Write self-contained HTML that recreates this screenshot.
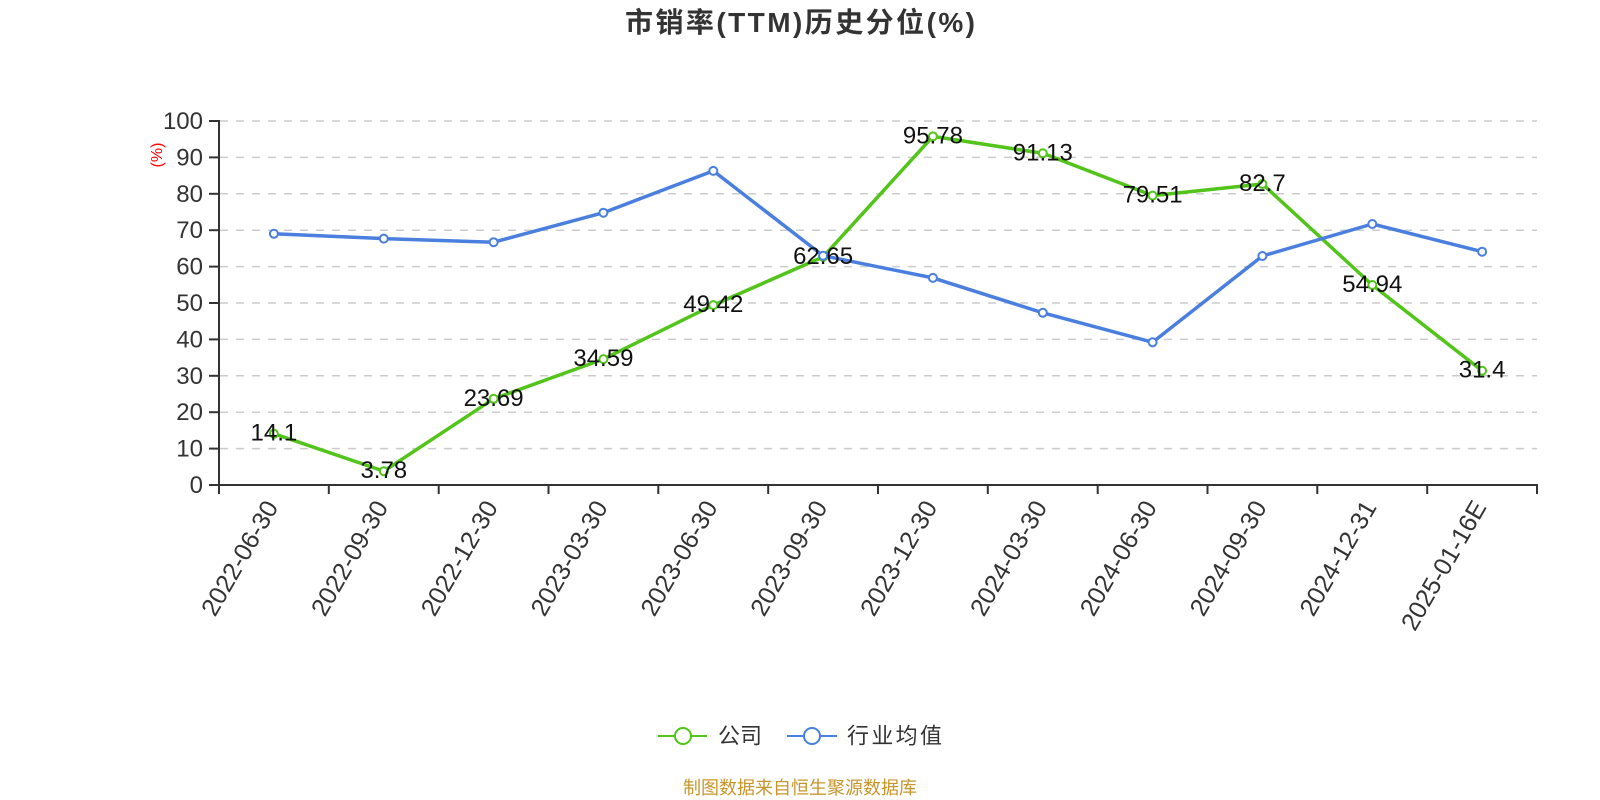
<!DOCTYPE html>
<html>
<head>
<meta charset="utf-8">
<style>
  html,body{margin:0;padding:0;background:#fff;}
  svg{display:block;}
  text{font-family:"Liberation Sans","Noto Sans CJK SC",sans-serif;}
</style>
</head>
<body>
<svg width="1600" height="800" viewBox="0 0 1600 800" xmlns="http://www.w3.org/2000/svg">
  <!-- Title -->
  <text x="800" y="32" text-anchor="middle" font-size="28" font-weight="bold" fill="#333" textLength="350" lengthAdjust="spacing">市销率(TTM)历史分位(%)</text>

  <!-- Grid lines -->
  <g stroke="#cccccc" stroke-width="1.5" stroke-dasharray="8 8">
    <line x1="220" y1="448.6" x2="1537" y2="448.6"/>
    <line x1="220" y1="412.2" x2="1537" y2="412.2"/>
    <line x1="220" y1="375.8" x2="1537" y2="375.8"/>
    <line x1="220" y1="339.4" x2="1537" y2="339.4"/>
    <line x1="220" y1="303" x2="1537" y2="303"/>
    <line x1="220" y1="266.6" x2="1537" y2="266.6"/>
    <line x1="220" y1="230.2" x2="1537" y2="230.2"/>
    <line x1="220" y1="193.8" x2="1537" y2="193.8"/>
    <line x1="220" y1="157.4" x2="1537" y2="157.4"/>
    <line x1="220" y1="121" x2="1537" y2="121"/>
  </g>

  <!-- Axes -->
  <g stroke="#333" stroke-width="2">
    <line x1="219" y1="120" x2="219" y2="486"/>
    <line x1="218" y1="485" x2="1538" y2="485"/>
    <line x1="209" y1="485" x2="219" y2="485"/>
    <line x1="209" y1="448.6" x2="219" y2="448.6"/>
    <line x1="209" y1="412.2" x2="219" y2="412.2"/>
    <line x1="209" y1="375.8" x2="219" y2="375.8"/>
    <line x1="209" y1="339.4" x2="219" y2="339.4"/>
    <line x1="209" y1="303" x2="219" y2="303"/>
    <line x1="209" y1="266.6" x2="219" y2="266.6"/>
    <line x1="209" y1="230.2" x2="219" y2="230.2"/>
    <line x1="209" y1="193.8" x2="219" y2="193.8"/>
    <line x1="209" y1="157.4" x2="219" y2="157.4"/>
    <line x1="209" y1="121" x2="219" y2="121"/>
    <line x1="219" y1="485" x2="219" y2="494"/>
    <line x1="328.8" y1="485" x2="328.8" y2="494"/>
    <line x1="438.7" y1="485" x2="438.7" y2="494"/>
    <line x1="548.5" y1="485" x2="548.5" y2="494"/>
    <line x1="658.3" y1="485" x2="658.3" y2="494"/>
    <line x1="768.2" y1="485" x2="768.2" y2="494"/>
    <line x1="878" y1="485" x2="878" y2="494"/>
    <line x1="987.8" y1="485" x2="987.8" y2="494"/>
    <line x1="1097.7" y1="485" x2="1097.7" y2="494"/>
    <line x1="1207.5" y1="485" x2="1207.5" y2="494"/>
    <line x1="1317.3" y1="485" x2="1317.3" y2="494"/>
    <line x1="1427.2" y1="485" x2="1427.2" y2="494"/>
    <line x1="1537" y1="485" x2="1537" y2="494"/>
  </g>

  <!-- Y labels -->
  <g font-size="24" fill="#333" text-anchor="end">
    <text x="203" y="493">0</text>
    <text x="203" y="456.6">10</text>
    <text x="203" y="420.2">20</text>
    <text x="203" y="383.8">30</text>
    <text x="203" y="347.4">40</text>
    <text x="203" y="311">50</text>
    <text x="203" y="274.6">60</text>
    <text x="203" y="238.2">70</text>
    <text x="203" y="201.8">80</text>
    <text x="203" y="165.4">90</text>
    <text x="203" y="129">100</text>
  </g>
  <text x="0" y="0" font-size="16" fill="#ff0000" text-anchor="middle" transform="translate(162,155) rotate(-90)">(%)</text>

  <!-- X labels -->
  <g font-size="25" fill="#333" text-anchor="end">
    <text transform="translate(279,507) rotate(-60)">2022-06-30</text>
    <text transform="translate(388.8,507) rotate(-60)">2022-09-30</text>
    <text transform="translate(498.6,507) rotate(-60)">2022-12-30</text>
    <text transform="translate(608.4,507) rotate(-60)">2023-03-30</text>
    <text transform="translate(718.3,507) rotate(-60)">2023-06-30</text>
    <text transform="translate(828.1,507) rotate(-60)">2023-09-30</text>
    <text transform="translate(937.9,507) rotate(-60)">2023-12-30</text>
    <text transform="translate(1047.8,507) rotate(-60)">2024-03-30</text>
    <text transform="translate(1157.6,507) rotate(-60)">2024-06-30</text>
    <text transform="translate(1267.4,507) rotate(-60)">2024-09-30</text>
    <text transform="translate(1377.3,507) rotate(-60)">2024-12-31</text>
    <text transform="translate(1487.1,507) rotate(-60)">2025-01-16E</text>
  </g>

  <!-- Green series (公司) -->
  <polyline fill="none" stroke="#52c41a" stroke-width="3.5" stroke-linejoin="round"
    points="273.9,433.7 383.8,471.2 493.6,398.8 603.4,359.1 713.3,305.1 823.1,256.9 932.9,136.4 1042.8,153.3 1152.6,195.6 1262.4,184.0 1372.3,285.0 1482.1,370.7"/>
  <g fill="#fff" stroke="#52c41a" stroke-width="2">
    <circle cx="273.9" cy="433.7" r="4"/>
    <circle cx="383.8" cy="471.2" r="4"/>
    <circle cx="493.6" cy="398.8" r="4"/>
    <circle cx="603.4" cy="359.1" r="4"/>
    <circle cx="713.3" cy="305.1" r="4"/>
    <circle cx="823.1" cy="256.9" r="4"/>
    <circle cx="932.9" cy="136.4" r="4"/>
    <circle cx="1042.8" cy="153.3" r="4"/>
    <circle cx="1152.6" cy="195.6" r="4"/>
    <circle cx="1262.4" cy="184.0" r="4"/>
    <circle cx="1372.3" cy="285.0" r="4"/>
    <circle cx="1482.1" cy="370.7" r="4"/>
  </g>

  <!-- Blue series (行业均值) -->
  <polyline fill="none" stroke="#4a7fe0" stroke-width="3.5" stroke-linejoin="round"
    points="273.9,233.8 383.8,238.6 493.6,242.2 603.4,212.7 713.3,170.9 823.1,255.7 932.9,277.9 1042.8,312.8 1152.6,342.3 1262.4,256.0 1372.3,224.0 1482.1,251.7"/>
  <g fill="#fff" stroke="#4a7fe0" stroke-width="2">
    <circle cx="273.9" cy="233.8" r="4"/>
    <circle cx="383.8" cy="238.6" r="4"/>
    <circle cx="493.6" cy="242.2" r="4"/>
    <circle cx="603.4" cy="212.7" r="4"/>
    <circle cx="713.3" cy="170.9" r="4"/>
    <circle cx="823.1" cy="255.7" r="4"/>
    <circle cx="932.9" cy="277.9" r="4"/>
    <circle cx="1042.8" cy="312.8" r="4"/>
    <circle cx="1152.6" cy="342.3" r="4"/>
    <circle cx="1262.4" cy="256.0" r="4"/>
    <circle cx="1372.3" cy="224.0" r="4"/>
    <circle cx="1482.1" cy="251.7" r="4"/>
  </g>

  <!-- Data labels -->
  <g font-size="24" fill="#111" text-anchor="middle">
    <text x="273.9" y="440.7">14.1</text>
    <text x="383.8" y="478.2">3.78</text>
    <text x="493.6" y="405.8">23.69</text>
    <text x="603.4" y="366.1">34.59</text>
    <text x="713.3" y="312.1">49.42</text>
    <text x="823.1" y="263.9">62.65</text>
    <text x="932.9" y="143.4">95.78</text>
    <text x="1042.8" y="160.3">91.13</text>
    <text x="1152.6" y="202.6">79.51</text>
    <text x="1262.4" y="191.0">82.7</text>
    <text x="1372.3" y="292.0">54.94</text>
    <text x="1482.1" y="377.7">31.4</text>
  </g>

  <!-- Legend -->
  <line x1="658" y1="736" x2="707" y2="736" stroke="#52c41a" stroke-width="2"/>
  <circle cx="683" cy="736" r="8" fill="#fff" stroke="#52c41a" stroke-width="2"/>
  <text x="718" y="736" font-size="22" fill="#333" dominant-baseline="central">公司</text>
  <line x1="787" y1="736" x2="837" y2="736" stroke="#4a7fe0" stroke-width="2"/>
  <circle cx="812" cy="736" r="8" fill="#fff" stroke="#4a7fe0" stroke-width="2"/>
  <text x="847" y="736" font-size="22" fill="#333" dominant-baseline="central" textLength="95" lengthAdjust="spacing">行业均值</text>

  <!-- Source -->
  <text x="800" y="788" font-size="18" fill="#c8952b" text-anchor="middle" dominant-baseline="central">制图数据来自恒生聚源数据库</text>
</svg>
</body>
</html>
